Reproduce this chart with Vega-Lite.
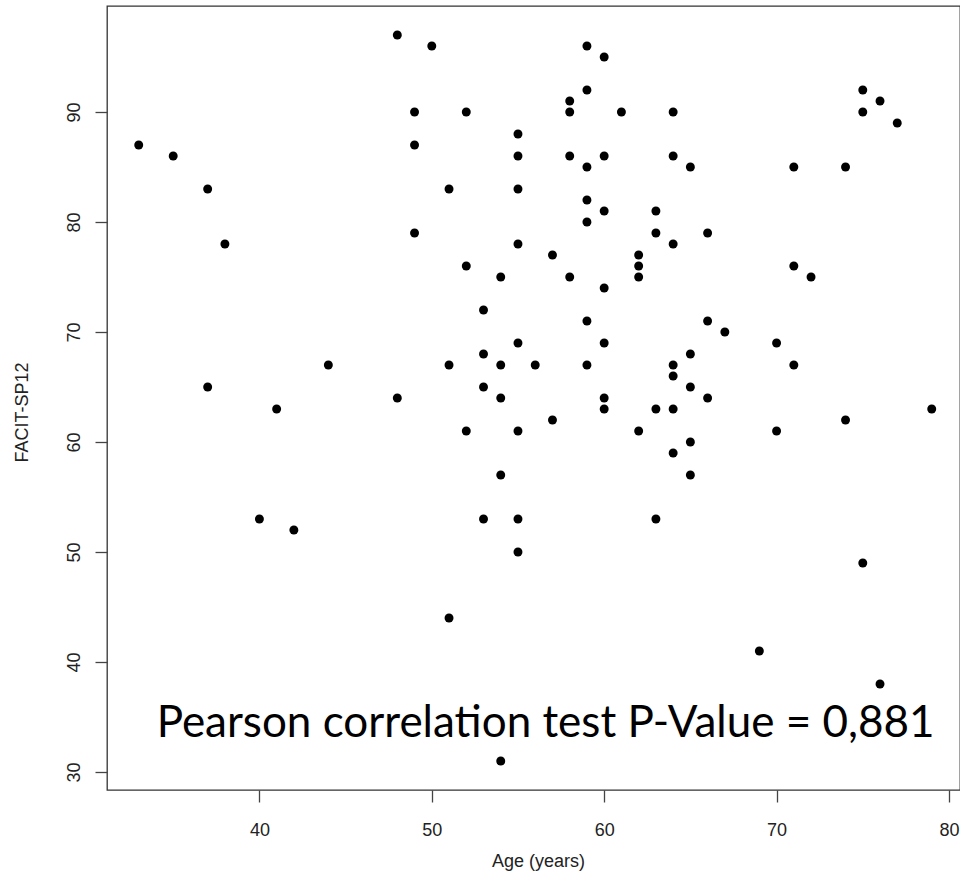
{
  "$schema": "https://vega.github.io/schema/vega-lite/v6.json",
  "autosize": "none",
  "padding": {"left": 107, "top": 6, "right": 0, "bottom": 100},
  "width": 853,
  "height": 784,
  "background": "white",
  "config": {
    "view": {"stroke": "#333333", "strokeWidth": 1.3},
    "axis": {
      "labelFont": "Liberation Sans",
      "titleFont": "Liberation Sans",
      "labelFontSize": 18,
      "titleFontSize": 18,
      "labelColor": "#222222",
      "titleColor": "#222222",
      "titleFontWeight": "normal",
      "grid": false,
      "domain": false,
      "tickColor": "#444444",
      "tickWidth": 1.3,
      "tickSize": 12
    }
  },
  "datasets": {
    "pts": [
      {"age": 33, "facit": 87}, {"age": 35, "facit": 86}, {"age": 37, "facit": 83}, {"age": 37, "facit": 65},
      {"age": 38, "facit": 78}, {"age": 40, "facit": 53}, {"age": 41, "facit": 63}, {"age": 42, "facit": 52},
      {"age": 44, "facit": 67}, {"age": 48, "facit": 97}, {"age": 48, "facit": 64}, {"age": 49, "facit": 90},
      {"age": 49, "facit": 87}, {"age": 49, "facit": 79}, {"age": 50, "facit": 96}, {"age": 51, "facit": 83},
      {"age": 51, "facit": 67}, {"age": 51, "facit": 44}, {"age": 52, "facit": 90}, {"age": 52, "facit": 76},
      {"age": 52, "facit": 61}, {"age": 53, "facit": 72}, {"age": 53, "facit": 68}, {"age": 53, "facit": 65},
      {"age": 53, "facit": 53}, {"age": 54, "facit": 75}, {"age": 54, "facit": 67}, {"age": 54, "facit": 64},
      {"age": 54, "facit": 57}, {"age": 54, "facit": 31}, {"age": 55, "facit": 88}, {"age": 55, "facit": 86},
      {"age": 55, "facit": 83}, {"age": 55, "facit": 78}, {"age": 55, "facit": 69}, {"age": 55, "facit": 61},
      {"age": 55, "facit": 53}, {"age": 55, "facit": 50}, {"age": 56, "facit": 67}, {"age": 57, "facit": 77},
      {"age": 57, "facit": 62}, {"age": 58, "facit": 91}, {"age": 58, "facit": 90}, {"age": 58, "facit": 86},
      {"age": 58, "facit": 75}, {"age": 59, "facit": 96}, {"age": 59, "facit": 92}, {"age": 59, "facit": 85},
      {"age": 59, "facit": 82}, {"age": 59, "facit": 80}, {"age": 59, "facit": 71}, {"age": 59, "facit": 67},
      {"age": 60, "facit": 95}, {"age": 60, "facit": 86}, {"age": 60, "facit": 81}, {"age": 60, "facit": 74},
      {"age": 60, "facit": 69}, {"age": 60, "facit": 64}, {"age": 60, "facit": 63}, {"age": 61, "facit": 90},
      {"age": 62, "facit": 77}, {"age": 62, "facit": 76}, {"age": 62, "facit": 75}, {"age": 62, "facit": 61},
      {"age": 63, "facit": 81}, {"age": 63, "facit": 79}, {"age": 63, "facit": 63}, {"age": 63, "facit": 53},
      {"age": 64, "facit": 90}, {"age": 64, "facit": 86}, {"age": 64, "facit": 78}, {"age": 64, "facit": 67},
      {"age": 64, "facit": 66}, {"age": 64, "facit": 63}, {"age": 64, "facit": 59}, {"age": 65, "facit": 85},
      {"age": 65, "facit": 68}, {"age": 65, "facit": 65}, {"age": 65, "facit": 60}, {"age": 65, "facit": 57},
      {"age": 66, "facit": 79}, {"age": 66, "facit": 71}, {"age": 66, "facit": 64}, {"age": 67, "facit": 70},
      {"age": 69, "facit": 41}, {"age": 70, "facit": 69}, {"age": 70, "facit": 61}, {"age": 71, "facit": 85},
      {"age": 71, "facit": 76}, {"age": 71, "facit": 67}, {"age": 72, "facit": 75}, {"age": 74, "facit": 85},
      {"age": 74, "facit": 62}, {"age": 75, "facit": 92}, {"age": 75, "facit": 90}, {"age": 75, "facit": 49},
      {"age": 76, "facit": 91}, {"age": 76, "facit": 38}, {"age": 77, "facit": 89}, {"age": 79, "facit": 63}
    ],
    "note": [
      {"age": 56.6, "facit": 33.2, "label": "Pearson correlation test P-Value = 0,881"}
    ]
  },
  "layer": [
    {
      "data": {"name": "pts"},
      "mark": {"type": "circle", "size": 80, "color": "black", "opacity": 1},
      "encoding": {
        "x": {
          "field": "age", "type": "quantitative",
          "scale": {"domain": [31.16, 80.64], "nice": false, "zero": false},
          "axis": {
            "title": "Age (years)",
            "values": [40, 50, 60, 70, 80],
            "labelBaseline": "alphabetic",
            "labelPadding": 33,
            "titleBaseline": "alphabetic",
            "titleAnchor": null,
            "titleAlign": "center",
            "titleX": 431,
            "titleY": 76
          }
        },
        "y": {
          "field": "facit", "type": "quantitative",
          "scale": {"domain": [28.36, 99.64], "nice": false, "zero": false},
          "axis": {
            "title": "FACIT-SP12",
            "values": [30, 40, 50, 60, 70, 80, 90],
            "labelAngle": -90,
            "labelAlign": "center",
            "labelBaseline": "alphabetic",
            "labelPadding": 16,
            "titleAngle": -90,
            "titleBaseline": "alphabetic",
            "titleAlign": "center",
            "titleAnchor": null,
            "titleX": -80,
            "titleY": 406
          }
        }
      }
    },
    {
      "data": {"name": "note"},
      "mark": {"type": "text", "font": "Lato", "fontSize": 44, "align": "center", "baseline": "alphabetic", "color": "black"},
      "encoding": {
        "x": {"field": "age", "type": "quantitative"},
        "y": {"field": "facit", "type": "quantitative"},
        "text": {"field": "label"}
      }
    }
  ]
}
